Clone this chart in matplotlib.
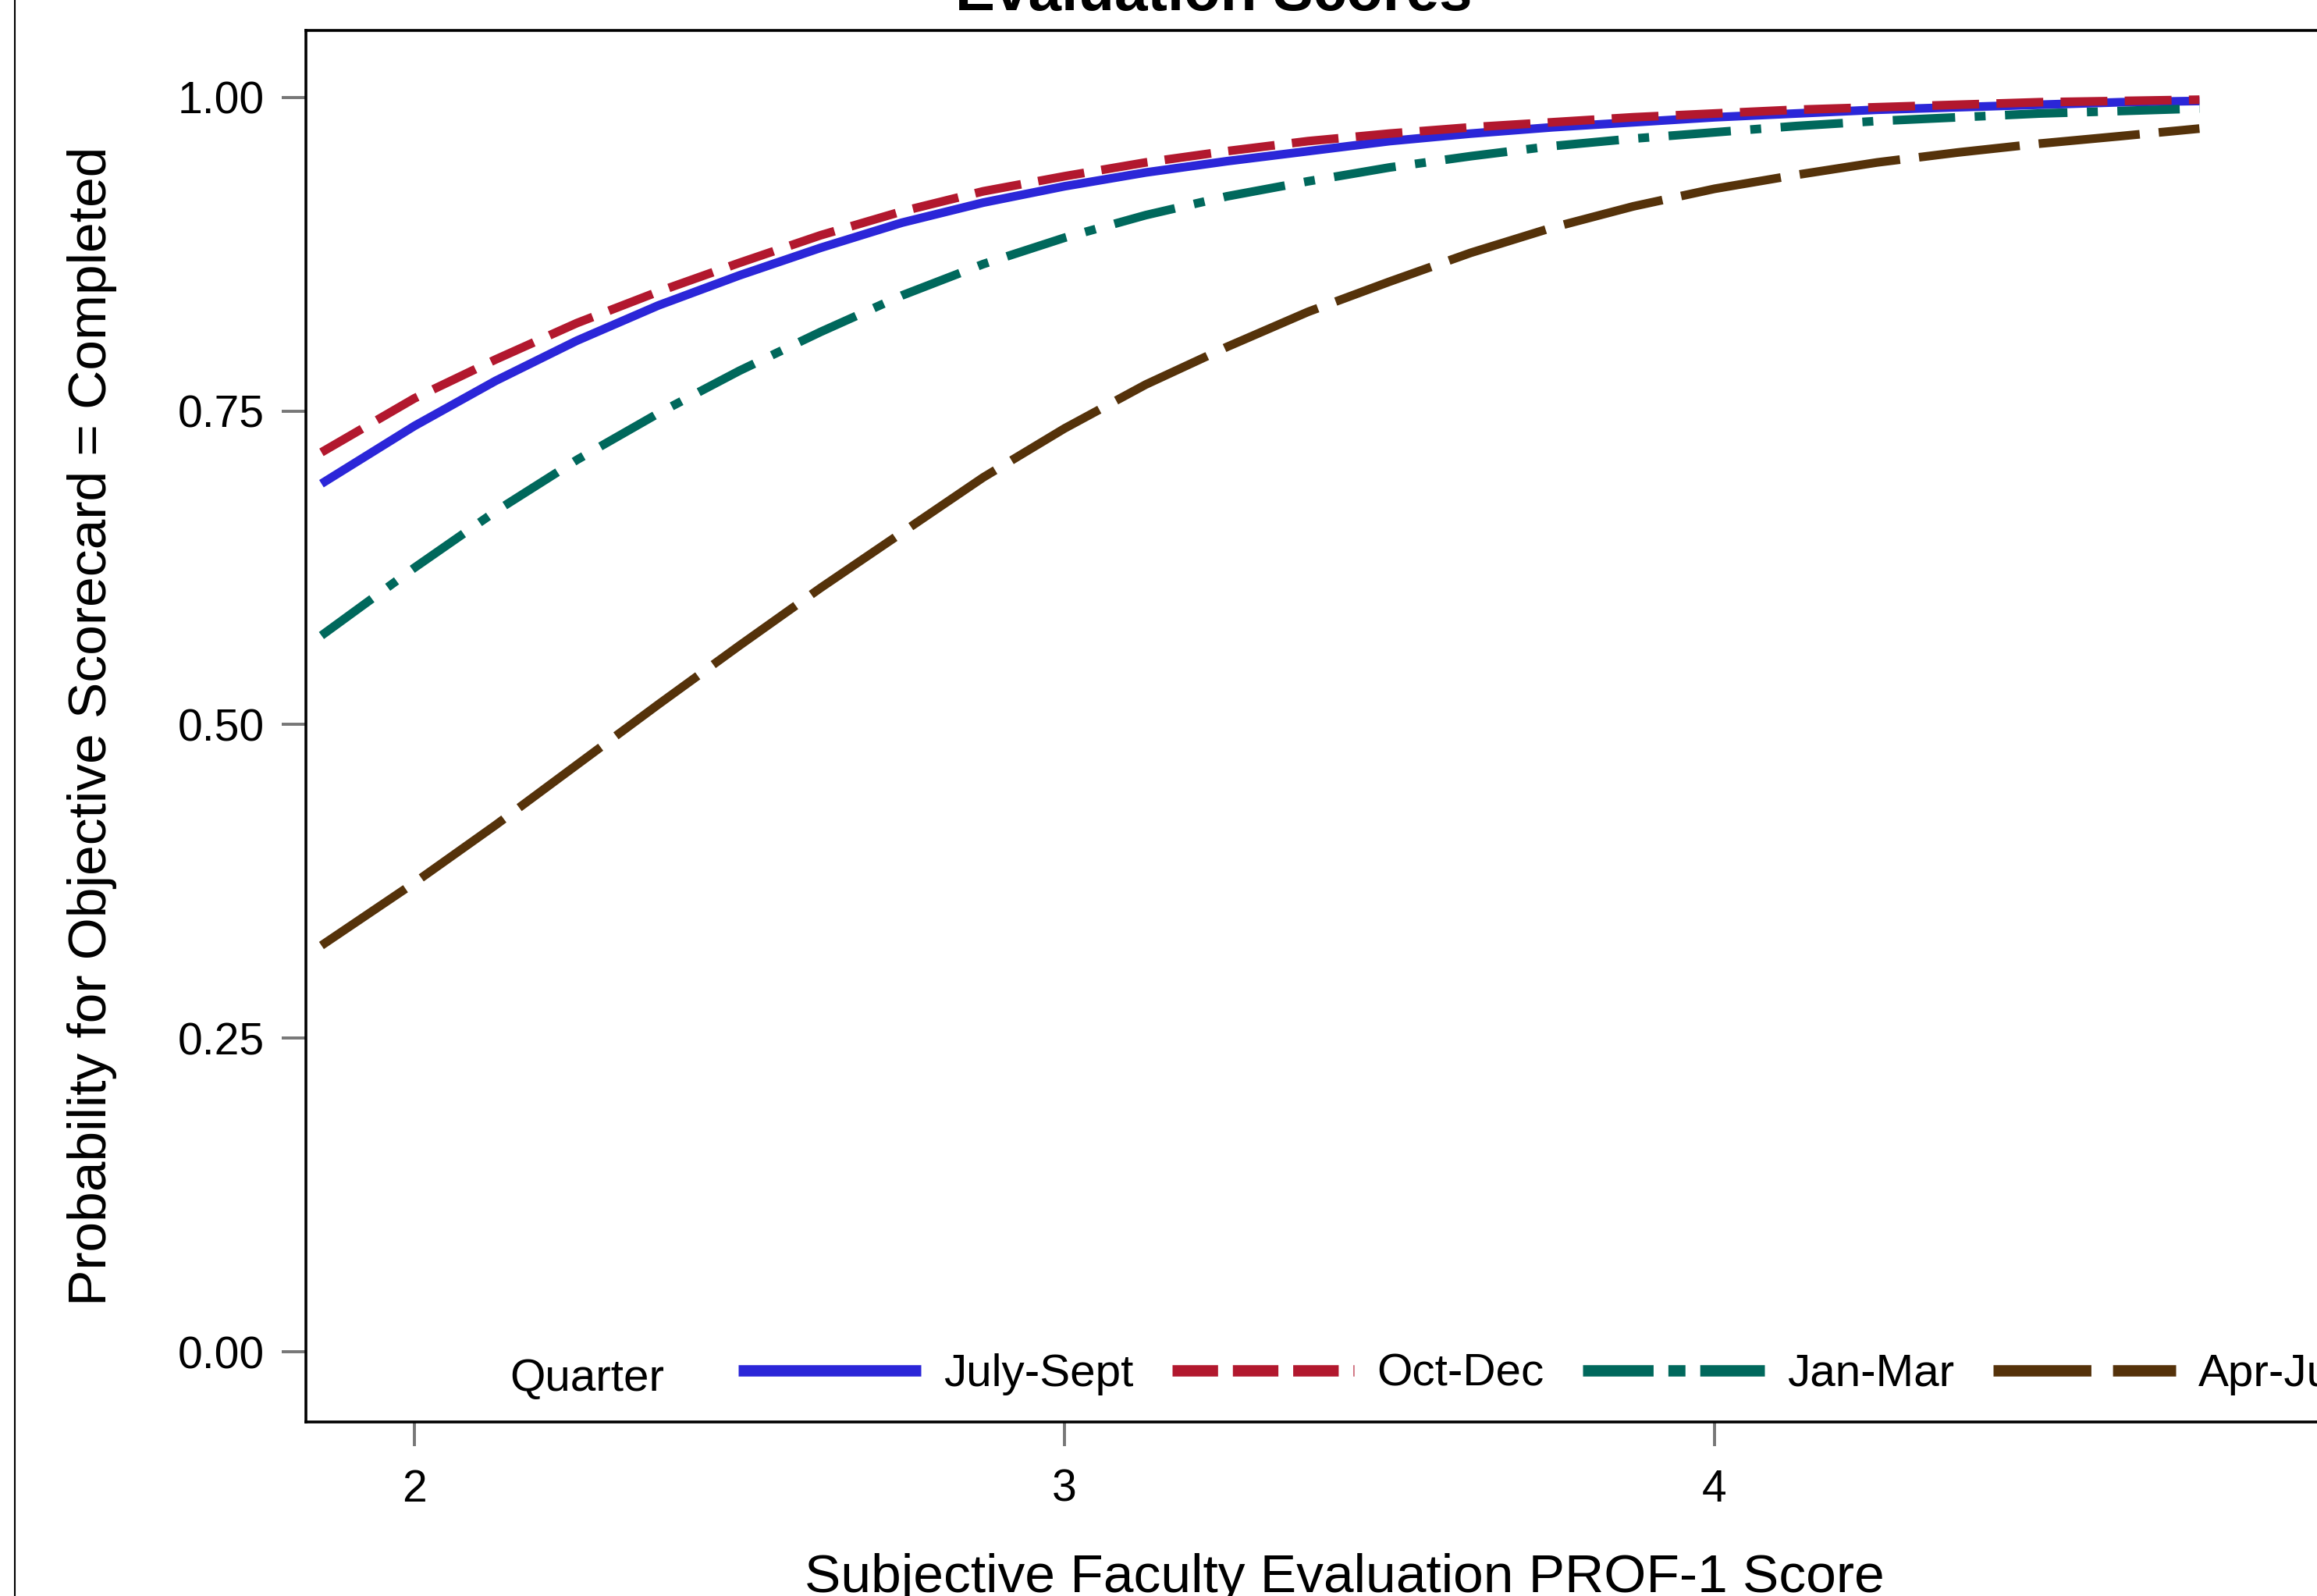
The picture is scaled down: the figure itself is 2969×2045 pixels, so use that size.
import matplotlib
matplotlib.use("Agg")
import matplotlib.pyplot as plt
from matplotlib.lines import Line2D
from matplotlib.ticker import FormatStrFormatter

plt.rcParams['font.family'] = ['Liberation Sans', 'DejaVu Sans']

# values
prof1_score = [1.857, 2.0, 2.125, 2.25, 2.375, 2.5, 2.625, 2.75, 2.875, 3.0, 3.125, 3.25,
               3.375, 3.5, 3.625, 3.75, 3.875, 4.0, 4.125, 4.25, 4.375, 4.5, 4.625, 4.746]
july_sept = [0.692, 0.738, 0.774, 0.806, 0.834, 0.858, 0.880, 0.900, 0.916, 0.929, 0.940, 0.949,
             0.957, 0.965, 0.971, 0.976, 0.980, 0.984, 0.987, 0.990, 0.992, 0.994, 0.996, 0.997]
oct_dec = [0.717, 0.760, 0.791, 0.820, 0.845, 0.868, 0.890, 0.909, 0.925, 0.937, 0.948, 0.957,
           0.965, 0.971, 0.976, 0.980, 0.984, 0.987, 0.990, 0.992, 0.994, 0.996, 0.997, 0.998]
jan_mar = [0.571, 0.625, 0.670, 0.711, 0.748, 0.782, 0.813, 0.842, 0.867, 0.888, 0.906, 0.921,
           0.933, 0.944, 0.953, 0.961, 0.967, 0.972, 0.977, 0.981, 0.984, 0.987, 0.989, 0.991]
apr_jun = [0.324, 0.374, 0.420, 0.468, 0.516, 0.563, 0.609, 0.653, 0.697, 0.736, 0.771, 0.801,
           0.829, 0.853, 0.876, 0.896, 0.913, 0.927, 0.938, 0.948, 0.956, 0.963, 0.969, 0.975]

quarters = ['July-Sept', 'Oct-Dec', 'Jan-Mar', 'Apr-Jun']
colors = ['#2B26D8', '#B2182E', '#00685C', '#55320A']
styles = ['-', (0, (5.4, 2.0)), (0, (7.2, 2.25, 1.26, 2.25)), (0, (11.7, 2.2))]
legend_styles = ['-', (0, (4.0, 1.3)), (0, (6.2, 1.3, 1.5, 1.3)), (0, (8.6, 1.9))]
y_ticks = [0.0, 0.25, 0.5, 0.75, 1.0]
x_ticks = [2, 3, 4, 5]

W, H = 2969, 2045
fig = plt.figure(figsize=(W / 100, H / 100), dpi=100)
ax = fig.add_axes([392 / W, 1 - 1822 / H, (3100 - 392) / W, (1822 - 39) / H])

series = [july_sept, oct_dec, jan_mar, apr_jun]
for vals, c, ls in zip(series, colors, styles):
    ax.plot(prof1_score, vals, color=c, linestyle=ls, lw=8,
            solid_capstyle='butt', dash_capstyle='butt', solid_joinstyle='round')

ax.set_xlim(1.8331, 5.0841)
ax.set_ylim(-0.0557, 1.0532)
ax.set_xticks(x_ticks)
ax.set_yticks(y_ticks)
ax.yaxis.set_major_formatter(FormatStrFormatter('%.2f'))
ax.tick_params(axis='both', direction='out', length=22, width=2.8, color='#777777',
               labelsize=41, labelcolor='black')
ax.tick_params(axis='y', pad=16)
ax.tick_params(axis='x', pad=21)
for s in ax.spines.values():
    s.set_linewidth(2.6)
    s.set_color('black')

# legend inside the plot area, along the bottom
handles = [Line2D([], [], color=c, linestyle=ls, lw=10.5,
                  solid_capstyle='butt', dash_capstyle='butt')
           for c, ls in zip(colors, legend_styles)]
fig.legend(handles, quarters, loc='center left', ncol=4, frameon=False,
           bbox_to_anchor=(917 / W, 1 - 1761 / H), borderpad=0,
           fontsize=42, handlelength=4.0, handletextpad=0.5, columnspacing=0.85)
fig.text(653 / W, 1 - 1761 / H, 'Quarter', fontsize=42, ha='left', va='center_baseline')

# labels and (cropped) title
fig.text(118 / W, 1 - 930 / H, 'Probability for Objective Scorecard = Completed',
         rotation=90, fontsize=50, ha='center', va='center')
fig.text(1723 / W, 5 / H, 'Subjective Faculty Evaluation PROF-1 Score',
         fontsize=50, ha='center', va='baseline')
fig.text(1555 / W, 1 - 13 / H, 'Evaluation Scores', fontsize=55, fontweight='bold',
         ha='center', va='baseline')

# outer border line on the left
fig.add_artist(Line2D([19 / W, 19 / W], [0, 1], transform=fig.transFigure,
                      color='black', lw=1.5))

fig.savefig('out.png', dpi=100)
